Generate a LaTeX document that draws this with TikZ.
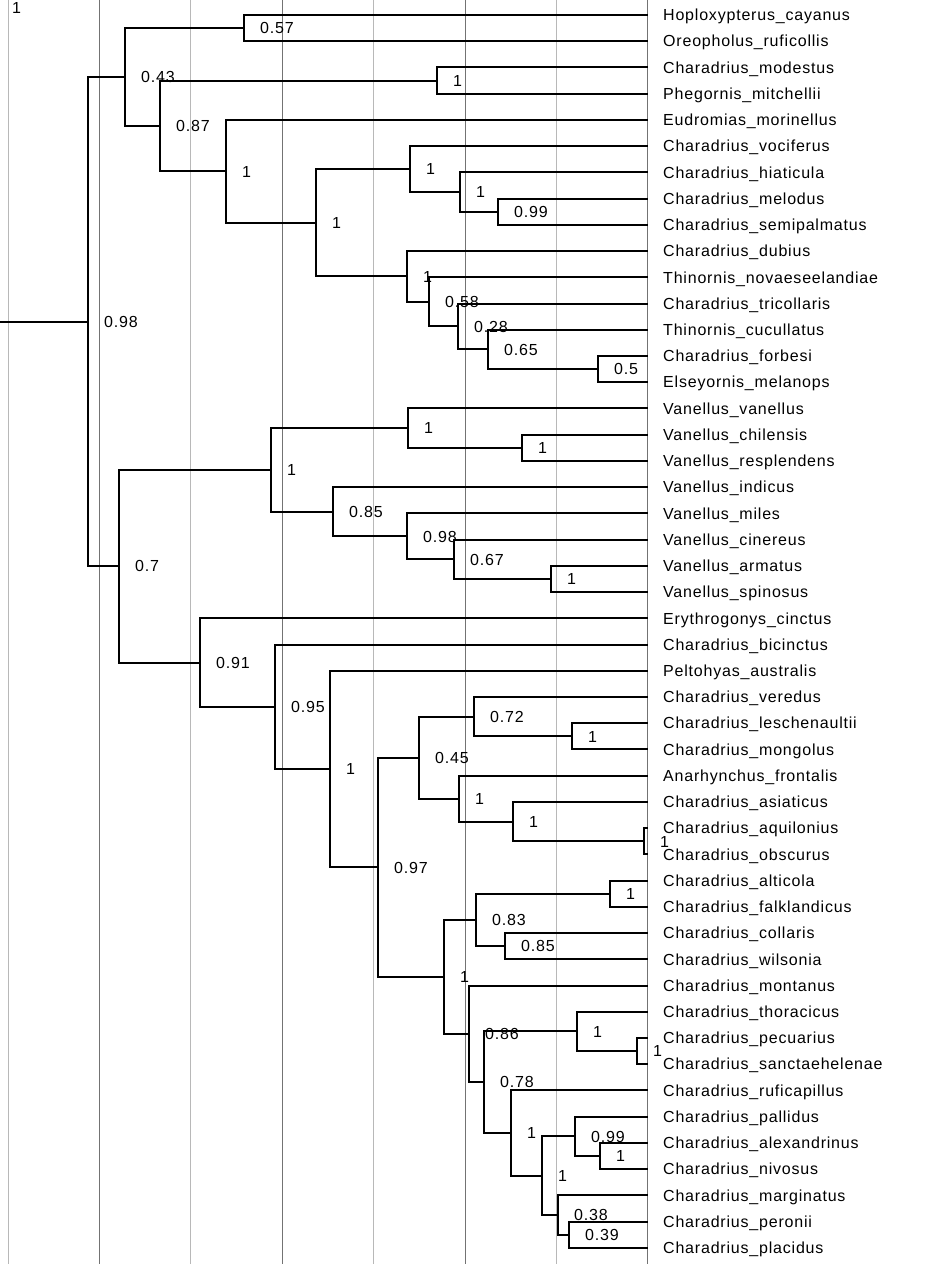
\documentclass[tikz,border=0pt]{standalone}
\usepackage{fontspec}
\newfontfamily\labfam[LetterSpace=5]{Liberation Sans}
\newcommand{\labfont}{\labfam\fontsize{16pt}{18pt}\selectfont}

\begin{document}
\begin{tikzpicture}[
  x=1pt, y=-1pt,
  branch/.style={line width=2pt},
  gridlight/.style={line width=1pt, black!28},
  griddark/.style={line width=1pt, black!55},
  taxon/.style={anchor=west, inner xsep=15pt, inner ysep=0pt, font=\labfont, text height=11.5pt, text depth=0pt},
  supp/.style={anchor=west, xshift=16pt, inner sep=0pt, font=\labfont, text height=11.5pt, text depth=0pt},
]
  \useasboundingbox (0,0) rectangle (928,1264);
  % time grid
  \foreach \gx in {8,190.8,373.6,556.4} \draw[gridlight] (\gx,0) -- (\gx,1264);
  \foreach \gx in {99.4,282.2,465,647.8} \draw[griddark] (\gx,0) -- (\gx,1264);

  \begin{scope}[y=-26.23pt, yshift=-15pt]
  % tips
  \foreach \name [count=\i from 0] in {
    Hoploxypterus\_cayanus, Oreopholus\_ruficollis, Charadrius\_modestus,
    Phegornis\_mitchellii, Eudromias\_morinellus, Charadrius\_vociferus,
    Charadrius\_hiaticula, Charadrius\_melodus, Charadrius\_semipalmatus,
    Charadrius\_dubius, Thinornis\_novaeseelandiae, Charadrius\_tricollaris,
    Thinornis\_cucullatus, Charadrius\_forbesi, Elseyornis\_melanops,
    Vanellus\_vanellus, Vanellus\_chilensis, Vanellus\_resplendens,
    Vanellus\_indicus, Vanellus\_miles, Vanellus\_cinereus,
    Vanellus\_armatus, Vanellus\_spinosus, Erythrogonys\_cinctus,
    Charadrius\_bicinctus, Peltohyas\_australis, Charadrius\_veredus,
    Charadrius\_leschenaultii, Charadrius\_mongolus, Anarhynchus\_frontalis,
    Charadrius\_asiaticus, Charadrius\_aquilonius, Charadrius\_obscurus,
    Charadrius\_alticola, Charadrius\_falklandicus, Charadrius\_collaris,
    Charadrius\_wilsonia, Charadrius\_montanus, Charadrius\_thoracicus,
    Charadrius\_pecuarius, Charadrius\_sanctaehelenae, Charadrius\_ruficapillus,
    Charadrius\_pallidus, Charadrius\_alexandrinus, Charadrius\_nivosus,
    Charadrius\_marginatus, Charadrius\_peronii, Charadrius\_placidus}
    \node[taxon] (t\i) at (648,\i) {\name};

  % internal nodes and supports
  \node[supp] (toplab) at (-4,-0.27) {1};
  \coordinate (stem) at (0,11.6902);
  \coordinate (root) at (88,11.6902);   \node[supp] at (root) {0.98};
  \coordinate (A) at (125,2.3652);      \node[supp] at (A) {0.43};
  \coordinate (A1) at (244,0.5);        \node[supp] at (A1) {0.57};
  \coordinate (A2) at (160,4.2305);     \node[supp] at (A2) {0.87};
  \coordinate (A2a) at (437,2.5);       \node[supp] at (A2a) {1};
  \coordinate (A2b) at (226,5.9609);    \node[supp] at (A2b) {1};
  \coordinate (B) at (316,7.9219);      \node[supp] at (B) {1};
  \coordinate (B1) at (410,5.875);      \node[supp] at (B1) {1};
  \coordinate (B1a) at (460,6.75);      \node[supp] at (B1a) {1};
  \coordinate (B1b) at (498,7.5);       \node[supp] at (B1b) {0.99};
  \coordinate (B2) at (407,9.9688);     \node[supp] at (B2) {1};
  \coordinate (B2a) at (429,10.9375);   \node[supp] at (B2a) {0.58};
  \coordinate (B2b) at (458,11.875);    \node[supp] at (B2b) {0.28};
  \coordinate (B2c) at (488,12.75);     \node[supp] at (B2c) {0.65};
  \coordinate (B2d) at (598,13.5);      \node[supp] at (B2d) {0.5};
  \coordinate (C) at (119,21.0151);     \node[supp] at (C) {0.7};
  \coordinate (C1) at (271,17.3438);    \node[supp] at (C1) {1};
  \coordinate (C1a) at (408,15.75);     \node[supp] at (C1a) {1};
  \coordinate (C1b) at (522,16.5);      \node[supp] at (C1b) {1};
  \coordinate (C1c) at (333,18.9375);   \node[supp] at (C1c) {0.85};
  \coordinate (C1d) at (407,19.875);    \node[supp] at (C1d) {0.98};
  \coordinate (C1e) at (454,20.75);     \node[supp] at (C1e) {0.67};
  \coordinate (C1f) at (551,21.5);      \node[supp] at (C1f) {1};
  \coordinate (C2) at (200,24.6865);    \node[supp] at (C2) {0.91};
  \coordinate (C3) at (275,26.3730);    \node[supp] at (C3) {0.95};
  \coordinate (C4) at (330,28.7461);    \node[supp] at (C4) {1};
  \coordinate (C5) at (378,32.4922);    \node[supp] at (C5) {0.97};
  \coordinate (C6) at (419,28.3125);    \node[supp] at (C6) {0.45};
  \coordinate (C6a) at (474,26.75);     \node[supp] at (C6a) {0.72};
  \coordinate (C6b) at (572,27.5);      \node[supp] at (C6b) {1};
  \coordinate (C6c) at (459,29.875);    \node[supp] at (C6c) {1};
  \coordinate (C6d) at (513,30.75);     \node[supp] at (C6d) {1};
  \coordinate (C6e) at (644,31.5);      \node[supp] at (C6e) {1};
  \coordinate (C7) at (444,36.6719);    \node[supp] at (C7) {1};
  \coordinate (C7a) at (476,34.5);      \node[supp] at (C7a) {0.83};
  \coordinate (C7b) at (610,33.5);      \node[supp] at (C7b) {1};
  \coordinate (C7c) at (505,35.5);      \node[supp] at (C7c) {0.85};
  \coordinate (C7d) at (469,38.8438);   \node[supp] at (C7d) {0.86};
  \coordinate (C7e) at (484,40.6875);   \node[supp] at (C7e) {0.78};
  \coordinate (C7f) at (577,38.75);     \node[supp] at (C7f) {1};
  \coordinate (C7g) at (637,39.5);      \node[supp] at (C7g) {1};
  \coordinate (C7h) at (511,42.625);    \node[supp] at (C7h) {1};
  \coordinate (C7i) at (542,44.25);     \node[supp] at (C7i) {1};
  \coordinate (C7j) at (575,42.75);     \node[supp] at (C7j) {0.99};
  \coordinate (C7k) at (600,43.5);      \node[supp] at (C7k) {1};
  \coordinate (C7l) at (558,45.75);     \node[supp] at (C7l) {0.38};
  \coordinate (C7m) at (569,46.5);      \node[supp] at (C7m) {0.39};

  % branches
  \draw[branch] (stem) -- (root);
  \draw[branch] (root) |- (A) (root) |- (C);
  \draw[branch] (A) |- (A1) (A) |- (A2);
  \draw[branch] (A1) |- (t0) (A1) |- (t1);
  \draw[branch] (A2) |- (A2a) (A2) |- (A2b);
  \draw[branch] (A2a) |- (t2) (A2a) |- (t3);
  \draw[branch] (A2b) |- (t4) (A2b) |- (B);
  \draw[branch] (B) |- (B1) (B) |- (B2);
  \draw[branch] (B1) |- (t5) (B1) |- (B1a);
  \draw[branch] (B1a) |- (t6) (B1a) |- (B1b);
  \draw[branch] (B1b) |- (t7) (B1b) |- (t8);
  \draw[branch] (B2) |- (t9) (B2) |- (B2a);
  \draw[branch] (B2a) |- (t10) (B2a) |- (B2b);
  \draw[branch] (B2b) |- (t11) (B2b) |- (B2c);
  \draw[branch] (B2c) |- (t12) (B2c) |- (B2d);
  \draw[branch] (B2d) |- (t13) (B2d) |- (t14);
  \draw[branch] (C) |- (C1) (C) |- (C2);
  \draw[branch] (C1) |- (C1a) (C1) |- (C1c);
  \draw[branch] (C1a) |- (t15) (C1a) |- (C1b);
  \draw[branch] (C1b) |- (t16) (C1b) |- (t17);
  \draw[branch] (C1c) |- (t18) (C1c) |- (C1d);
  \draw[branch] (C1d) |- (t19) (C1d) |- (C1e);
  \draw[branch] (C1e) |- (t20) (C1e) |- (C1f);
  \draw[branch] (C1f) |- (t21) (C1f) |- (t22);
  \draw[branch] (C2) |- (t23) (C2) |- (C3);
  \draw[branch] (C3) |- (t24) (C3) |- (C4);
  \draw[branch] (C4) |- (t25) (C4) |- (C5);
  \draw[branch] (C5) |- (C6) (C5) |- (C7);
  \draw[branch] (C6) |- (C6a) (C6) |- (C6c);
  \draw[branch] (C6a) |- (t26) (C6a) |- (C6b);
  \draw[branch] (C6b) |- (t27) (C6b) |- (t28);
  \draw[branch] (C6c) |- (t29) (C6c) |- (C6d);
  \draw[branch] (C6d) |- (t30) (C6d) |- (C6e);
  \draw[branch] (C6e) |- (t31) (C6e) |- (t32);
  \draw[branch] (C7) |- (C7a) (C7) |- (C7d);
  \draw[branch] (C7a) |- (C7b) (C7a) |- (C7c);
  \draw[branch] (C7b) |- (t33) (C7b) |- (t34);
  \draw[branch] (C7c) |- (t35) (C7c) |- (t36);
  \draw[branch] (C7d) |- (t37) (C7d) |- (C7e);
  \draw[branch] (C7e) |- (C7f) (C7e) |- (C7h);
  \draw[branch] (C7f) |- (t38) (C7f) |- (C7g);
  \draw[branch] (C7g) |- (t39) (C7g) |- (t40);
  \draw[branch] (C7h) |- (t41) (C7h) |- (C7i);
  \draw[branch] (C7i) |- (C7j) (C7i) |- (C7l);
  \draw[branch] (C7j) |- (t42) (C7j) |- (C7k);
  \draw[branch] (C7k) |- (t43) (C7k) |- (t44);
  \draw[branch] (C7l) |- (t45) (C7l) |- (C7m);
  \draw[branch] (C7m) |- (t46) (C7m) |- (t47);
  \end{scope}
\end{tikzpicture}
\end{document}
